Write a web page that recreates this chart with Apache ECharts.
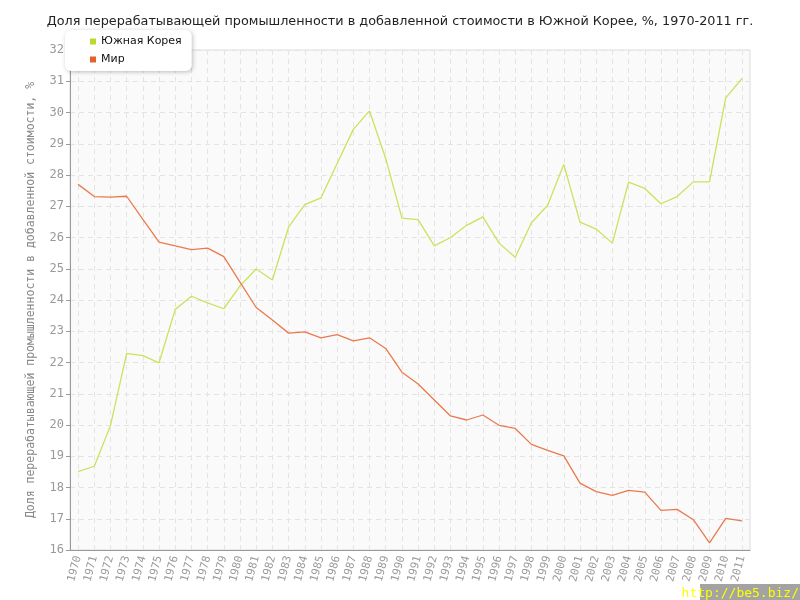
<!DOCTYPE html>
<html>
<head>
<meta charset="utf-8">
<script src="https://cdn.jsdelivr.net/npm/echarts@6/dist/echarts.min.js"></script>
<style>html,body{margin:0;padding:0;background:#fff}#c{width:800px;height:600px}</style>
</head>
<body>
<div id="c"></div>
<script>
const years = ['1970','1971','1972','1973','1974','1975','1976','1977','1978','1979','1980','1981','1982','1983','1984','1985','1986','1987','1988','1989','1990','1991','1992','1993','1994','1995','1996','1997','1998','1999','2000','2001','2002','2003','2004','2005','2006','2007','2008','2009','2010','2011'];
const korea = [18.51,18.68,19.98,22.29,22.22,21.99,23.70,24.12,23.91,23.72,24.45,24.99,24.64,26.33,27.05,27.27,28.37,29.46,30.05,28.53,26.62,26.57,25.73,26.00,26.39,26.66,25.82,25.37,26.47,27.03,28.34,26.49,26.27,25.82,27.77,27.57,27.08,27.31,27.78,27.78,30.47,31.08];
const world = [27.70,27.31,27.29,27.32,26.58,25.85,25.73,25.61,25.66,25.39,24.57,23.76,23.36,22.94,22.98,22.79,22.89,22.69,22.79,22.45,21.69,21.31,20.80,20.29,20.16,20.32,19.99,19.89,19.38,19.19,19.01,18.14,17.87,17.75,17.91,17.85,17.27,17.30,16.97,16.23,17.01,16.93];
const seriesNames = ['Южная Корея','Мир'];
const titleText = 'Доля перерабатывающей промышленности в добавленной стоимости в Южной Корее, %, 1970-2011 гг.';
const yAxisName = 'Доля перерабатывающей промышленности в добавленной стоимости, %';

const chart = echarts.init(document.getElementById('c'), null, {renderer:'canvas'});
const mono = 'DejaVu Sans Mono';
chart.setOption({
  animation: false,
  title: {
    text: titleText, left: 'center', top: 10,
    textStyle: {fontFamily: 'DejaVu Sans', fontSize: 12.8, fontWeight: 'normal', color: '#222'}
  },
  legend: {
    orient: 'vertical', left: 65, top: 30,
    icon: 'rect', itemWidth: 6, itemHeight: 6, itemGap: 7,
    padding: [6, 10, 6, 25],
    backgroundColor: '#fff', borderRadius: 6,
    shadowColor: 'rgba(0,0,0,0.25)', shadowBlur: 4, shadowOffsetX: 1, shadowOffsetY: 1,
    textStyle: {fontFamily: 'DejaVu Sans', fontSize: 11, color: '#111'},
    data: seriesNames
  },
  grid: {
    left: 70, right: 50, top: 50, bottom: 50,
    show: true, backgroundColor: '#fafafa', borderColor: '#dddddd', borderWidth: 1
  },
  xAxis: {
    type: 'category', data: years, boundaryGap: true,
    axisLine: {lineStyle: {color: '#999', width: 1}},
    axisTick: {alignWithLabel: true, length: 5, lineStyle: {color: '#999'}},
    splitLine: {show: true, alignWithLabel: true, lineStyle: {color: '#e4e4e4', type: [5, 4]}},
    axisLabel: {rotate: 75, interval: 0, fontFamily: mono, fontSize: 11, color: '#999', margin: 6}
  },
  yAxis: {
    type: 'value', min: 16, max: 32, interval: 1,
    name: yAxisName, nameLocation: 'middle', nameGap: 33,
    nameTextStyle: {fontFamily: mono, fontSize: 11.5, color: '#888'},
    axisLine: {show: true, lineStyle: {color: '#999', width: 1}},
    axisTick: {show: true, length: 4, lineStyle: {color: '#999'}},
    splitLine: {show: true, lineStyle: {color: '#e4e4e4', type: [5, 4]}},
    axisLabel: {fontFamily: mono, fontSize: 12, color: '#999', margin: 6}
  },
  series: [
    {name: seriesNames[0], type: 'line', data: korea, showSymbol: false, symbol: 'none',
     itemStyle: {color: '#b8d832'}, lineStyle: {color: '#cbe25a', width: 1.3}},
    {name: seriesNames[1], type: 'line', data: world, showSymbol: false, symbol: 'none',
     itemStyle: {color: '#e2622e'}, lineStyle: {color: '#ea7a4e', width: 1.3}}
  ],
  graphic: [
    {type: 'rect', right: 0, bottom: 0, shape: {width: 100, height: 16}, style: {fill: '#a3a3a3'}},
    {type: 'text', right: 1, bottom: 0, style: {text: 'http://be5.biz/', fill: '#ffff00', font: '13px "DejaVu Sans Mono"'}}
  ]
});
</script>
</body>
</html>
